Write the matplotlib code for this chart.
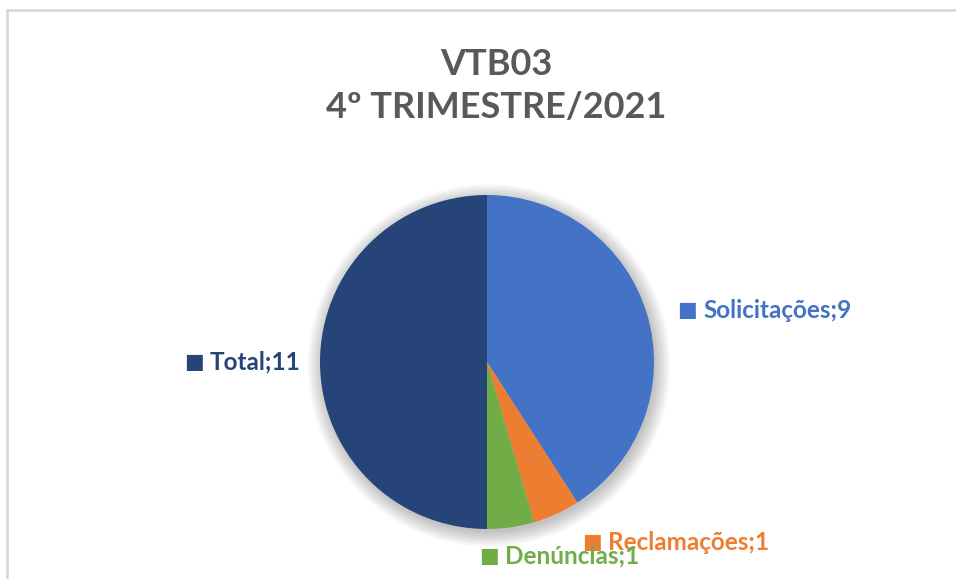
import matplotlib.pyplot as plt
from matplotlib.patches import Circle

categories = ["Solicitações", "Reclamações", "Denúncias", "Total"]
values = [9, 1, 1, 11]
colors = ["#4472C4", "#ED7D31", "#70AD47", "#264478"]
title = "VTB03\n4º TRIMESTRE/2021"

W, H = 956, 579
fig = plt.figure(figsize=(W / 100, H / 100), dpi=100)
fig.patch.set_facecolor("white")

# chart border (top and left visible)
fig.add_artist(plt.Line2D([7 / W, 1], [1 - 10 / H, 1 - 10 / H], color="#D9D9D9", lw=2))
fig.add_artist(plt.Line2D([7 / W, 7 / W], [0, 1 - 10 / H], color="#D9D9D9", lw=2))

fig.text(496 / W, 1 - 86 / H, title, ha="center", va="center", fontsize=26,
         fontweight="bold", color="#595959", family="Lato", linespacing=1.4)

# pie axes: center (487, 362), radius 167 px
cx, cy, r = 487, 362, 167
ax = fig.add_axes([(cx - r) / W, 1 - (cy + r) / H, 2 * r / W, 2 * r / H])

# soft shadow
for i in range(8):
    ax.add_patch(Circle((0.012, -0.02), 1.0 + i * 0.012, color="black",
                        alpha=0.03, lw=0, zorder=0, clip_on=False))

ax.pie(values, colors=colors, startangle=90, counterclock=False, radius=1,
       wedgeprops=dict(linewidth=0), frame=True)
ax.set_xlim(-1, 1)
ax.set_ylim(-1, 1)
ax.set_aspect("equal")
ax.axis("off")

# label layout in pixels (square x, text center y)
label_pos = [(683, 310), (588, 542), (485, 556), (190, 362)]
for cat, val, col, (px, py) in zip(categories, values, colors, label_pos):
    fig.text((px - 6) / W, 1 - py / H, "\u25A0", ha="left", va="center",
             fontsize=15, color=col, family="DejaVu Sans")
    fig.text((px + 20) / W, 1 - py / H, f"{cat};{val}", ha="left", va="center",
             fontsize=17.5, fontweight="bold", color=col, family="Lato")

fig.savefig("out.png", dpi=100)
